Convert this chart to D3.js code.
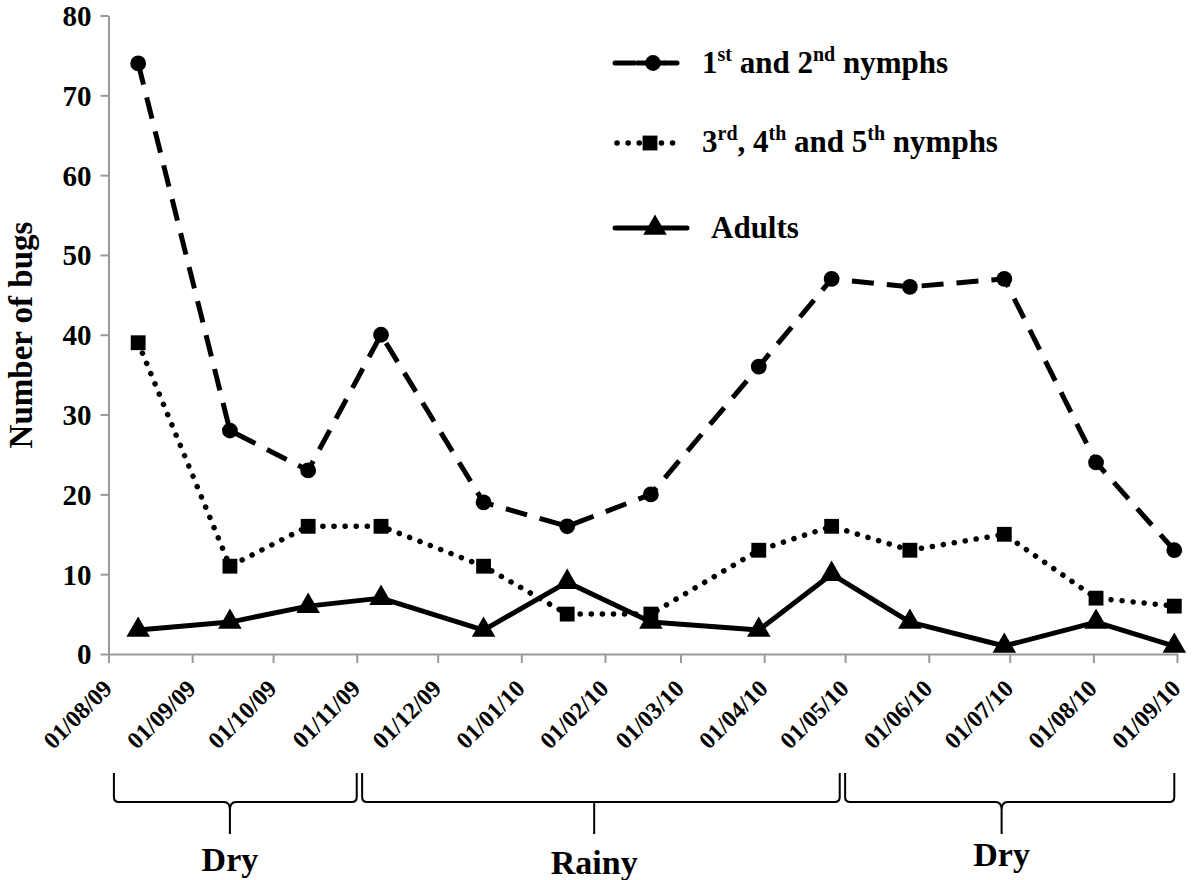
<!DOCTYPE html>
<html><head><meta charset="utf-8">
<script src="https://cdn.jsdelivr.net/npm/d3@7"></script>
<style>body{margin:0;background:#fff}svg{display:block}</style>
</head><body><svg id="c" width="1200" height="880"></svg>
<script>
const dates = ["2009-08-12","2009-09-15","2009-10-14","2009-11-10","2009-12-18","2010-01-18","2010-02-18","2010-03-30","2010-04-26","2010-05-25","2010-06-29","2010-08-02","2010-08-31"];
const nymphs12 = [74,28,23,40,19,16,20,36,47,46,47,24,13];
const nymphs345 = [39,11,16,16,11,5,5,13,16,13,15,7,6];
const adults = [3,4,6,7,3,9,4,3,10,4,1,4,1];
const yTicks = [0,10,20,30,40,50,60,70,80];
const seasonNames = ["Dry","Rainy","Dry"];
const seasonStart = ["2009-08-03","2009-11-03","2010-05-01"];
const seasonMid = ["2009-09-15","2010-01-28","2010-06-28"];
const seasonEnd = ["2009-11-01","2010-04-29","2010-08-31"];

const parse = d3.timeParse("%Y-%m-%d");
const svg = d3.select("#c");
const x = d3.scaleTime().domain([parse("2009-08-01"), parse("2010-09-01")]).range([108.5, 1177]);
const y = d3.scaleLinear().domain([0,80]).range([654, 15.5]);

// axes
const xAxis = d3.axisBottom(x).ticks(d3.timeMonth.every(1)).tickFormat(d3.timeFormat("%d/%m/%y")).tickSize(9).tickSizeOuter(0);
const gx = svg.append("g").attr("transform","translate(0,654)").call(xAxis).attr("font-family",null).attr("font-size",null);
gx.select(".domain").attr("stroke","#999").attr("stroke-width",2);
gx.selectAll(".tick line").attr("stroke","#999").attr("stroke-width",2);
gx.selectAll(".tick text").attr("font-size",24).attr("text-anchor","end")
  .attr("transform","translate(4.5,36) rotate(-45)").attr("dy",0).attr("y",0).attr("x",0);

const yAxis = d3.axisLeft(y).tickValues(yTicks).tickSize(8).tickSizeOuter(0).tickPadding(9);
const gy = svg.append("g").attr("transform","translate(108.5,0)").call(yAxis).attr("font-family",null).attr("font-size",null);
gy.select(".domain").attr("stroke","#999").attr("stroke-width",2);
gy.selectAll(".tick line").attr("stroke","#999").attr("stroke-width",2);
gy.selectAll(".tick text").attr("font-size",29).attr("dy","0.34em");

svg.append("text").attr("transform","translate(32,335) rotate(-90)").attr("text-anchor","middle")
  .attr("font-size",33).text("Number of bugs");

const rows = (vals) => dates.map((d,i)=>({d:parse(d), v:vals[i]}));
const line = d3.line().x(p=>x(p.d)).y(p=>y(p.v));

const series = [
  {vals:nymphs12, dash:"22,13", marker:"circle"},
  {vals:nymphs345, dash:"0.1,11", marker:"square"},
  {vals:adults, dash:null, marker:"triangle"}
];
const symbolFor = m => m==="circle" ? d3.symbol().type(d3.symbolCircle).size(195)
  : m==="square" ? d3.symbol().type(d3.symbolSquare).size(220)
  : d3.symbol().type(d3.symbolTriangle).size(240);

series.forEach(s=>{
  const data = rows(s.vals);
  const p = svg.append("path").datum(data).attr("d",line).attr("fill","none").attr("stroke","#000")
    .attr("stroke-width",s.marker==="square"?5.5:5).attr("stroke-linejoin","round");
  if (s.dash) p.attr("stroke-dasharray",s.dash);
  if (s.marker==="square") p.attr("stroke-linecap","round");
  svg.append("g").selectAll("path").data(data).join("path")
    .attr("transform",p=>`translate(${x(p.d)},${y(p.v)})`).attr("d",symbolFor(s.marker)).attr("fill","#000");
});

// legend
const leg = [
  {y:63, x1:615, x2:677, mx:653, dash:"22,13", marker:"circle"},
  {y:143, x1:615, x2:677, mx:650, dash:"0.1,11", marker:"square"},
  {y:228, x1:615, x2:687, mx:655, dash:null, marker:"triangle"}
];
leg.forEach((l,i)=>{
  if (l.marker==="circle") {
    svg.append("line").attr("x1",l.x1).attr("x2",l.x1+20).attr("y1",l.y).attr("y2",l.y).attr("stroke","#000").attr("stroke-width",5).attr("stroke-linecap","round");
    svg.append("line").attr("x1",l.x2-12).attr("x2",l.x2).attr("y1",l.y).attr("y2",l.y).attr("stroke","#000").attr("stroke-width",5).attr("stroke-linecap","round");
    svg.append("line").attr("x1",l.x1+22).attr("x2",l.x2-12).attr("y1",l.y).attr("y2",l.y).attr("stroke","#000").attr("stroke-width",5);
  } else {
    const ln = svg.append("line").attr("x1",l.x1+ (l.dash?2:0)).attr("x2",l.x2).attr("y1",l.y).attr("y2",l.y).attr("stroke","#000").attr("stroke-width",l.dash?5.5:5).attr("stroke-linecap","round");
    if (l.dash) ln.attr("stroke-dasharray",l.dash);
  }
  svg.append("path").attr("transform",`translate(${l.mx},${l.y})`).attr("d",symbolFor(l.marker)).attr("fill","#000");
});
function legText(yy, xx, parts){
  const t = svg.append("text").attr("x",xx).attr("y",yy).attr("font-size",31);
  parts.forEach(p=>{
    if (p.sup) t.append("tspan").attr("font-size",20).attr("dy",-12).text(p.t);
    else t.append("tspan").attr("font-size",31).attr("dy",p.after?12:0).text(p.t);
  });
}
legText(73,702,[{t:"1"},{t:"st",sup:1},{t:" and 2",after:1},{t:"nd",sup:1},{t:" nymphs",after:1}]);
legText(152,702,[{t:"3"},{t:"rd",sup:1},{t:", 4",after:1},{t:"th",sup:1},{t:" and 5",after:1},{t:"th",sup:1},{t:" nymphs",after:1}]);
legText(238,711,[{t:"Adults"}]);

// season brackets
const by0 = 773, by1 = 802, by2 = 834;
seasonNames.forEach((n,i)=>{
  const a = x(parse(seasonStart[i])), b = x(parse(seasonEnd[i])), m = x(parse(seasonMid[i]));
  const r = 5;
  let d = `M${a},${by0} L${a},${by1-r} Q${a},${by1} ${a+r},${by1} `;
  if (n==="Dry") {
    d += `L${m-6},${by1} Q${m},${by1} ${m},${by1+8} L${m},${by2} M${m},${by1+8} Q${m},${by1} ${m+6},${by1} `;
  } else {
    d += `L${m},${by1} L${m},${by2} M${m},${by1} `;
  }
  d += `L${b-r},${by1} Q${b},${by1} ${b},${by1-r} L${b},${by0}`;
  svg.append("path").attr("d",d).attr("fill","none").attr("stroke","#000").attr("stroke-width",2);
  svg.append("text").attr("x",m).attr("y", i===2?866:(i===1?874:871)).attr("text-anchor","middle").attr("font-size",34).text(n);
});

svg.selectAll("text").style("font-family","Liberation Serif").style("font-weight","bold").attr("fill","#000");
</script></body></html>
